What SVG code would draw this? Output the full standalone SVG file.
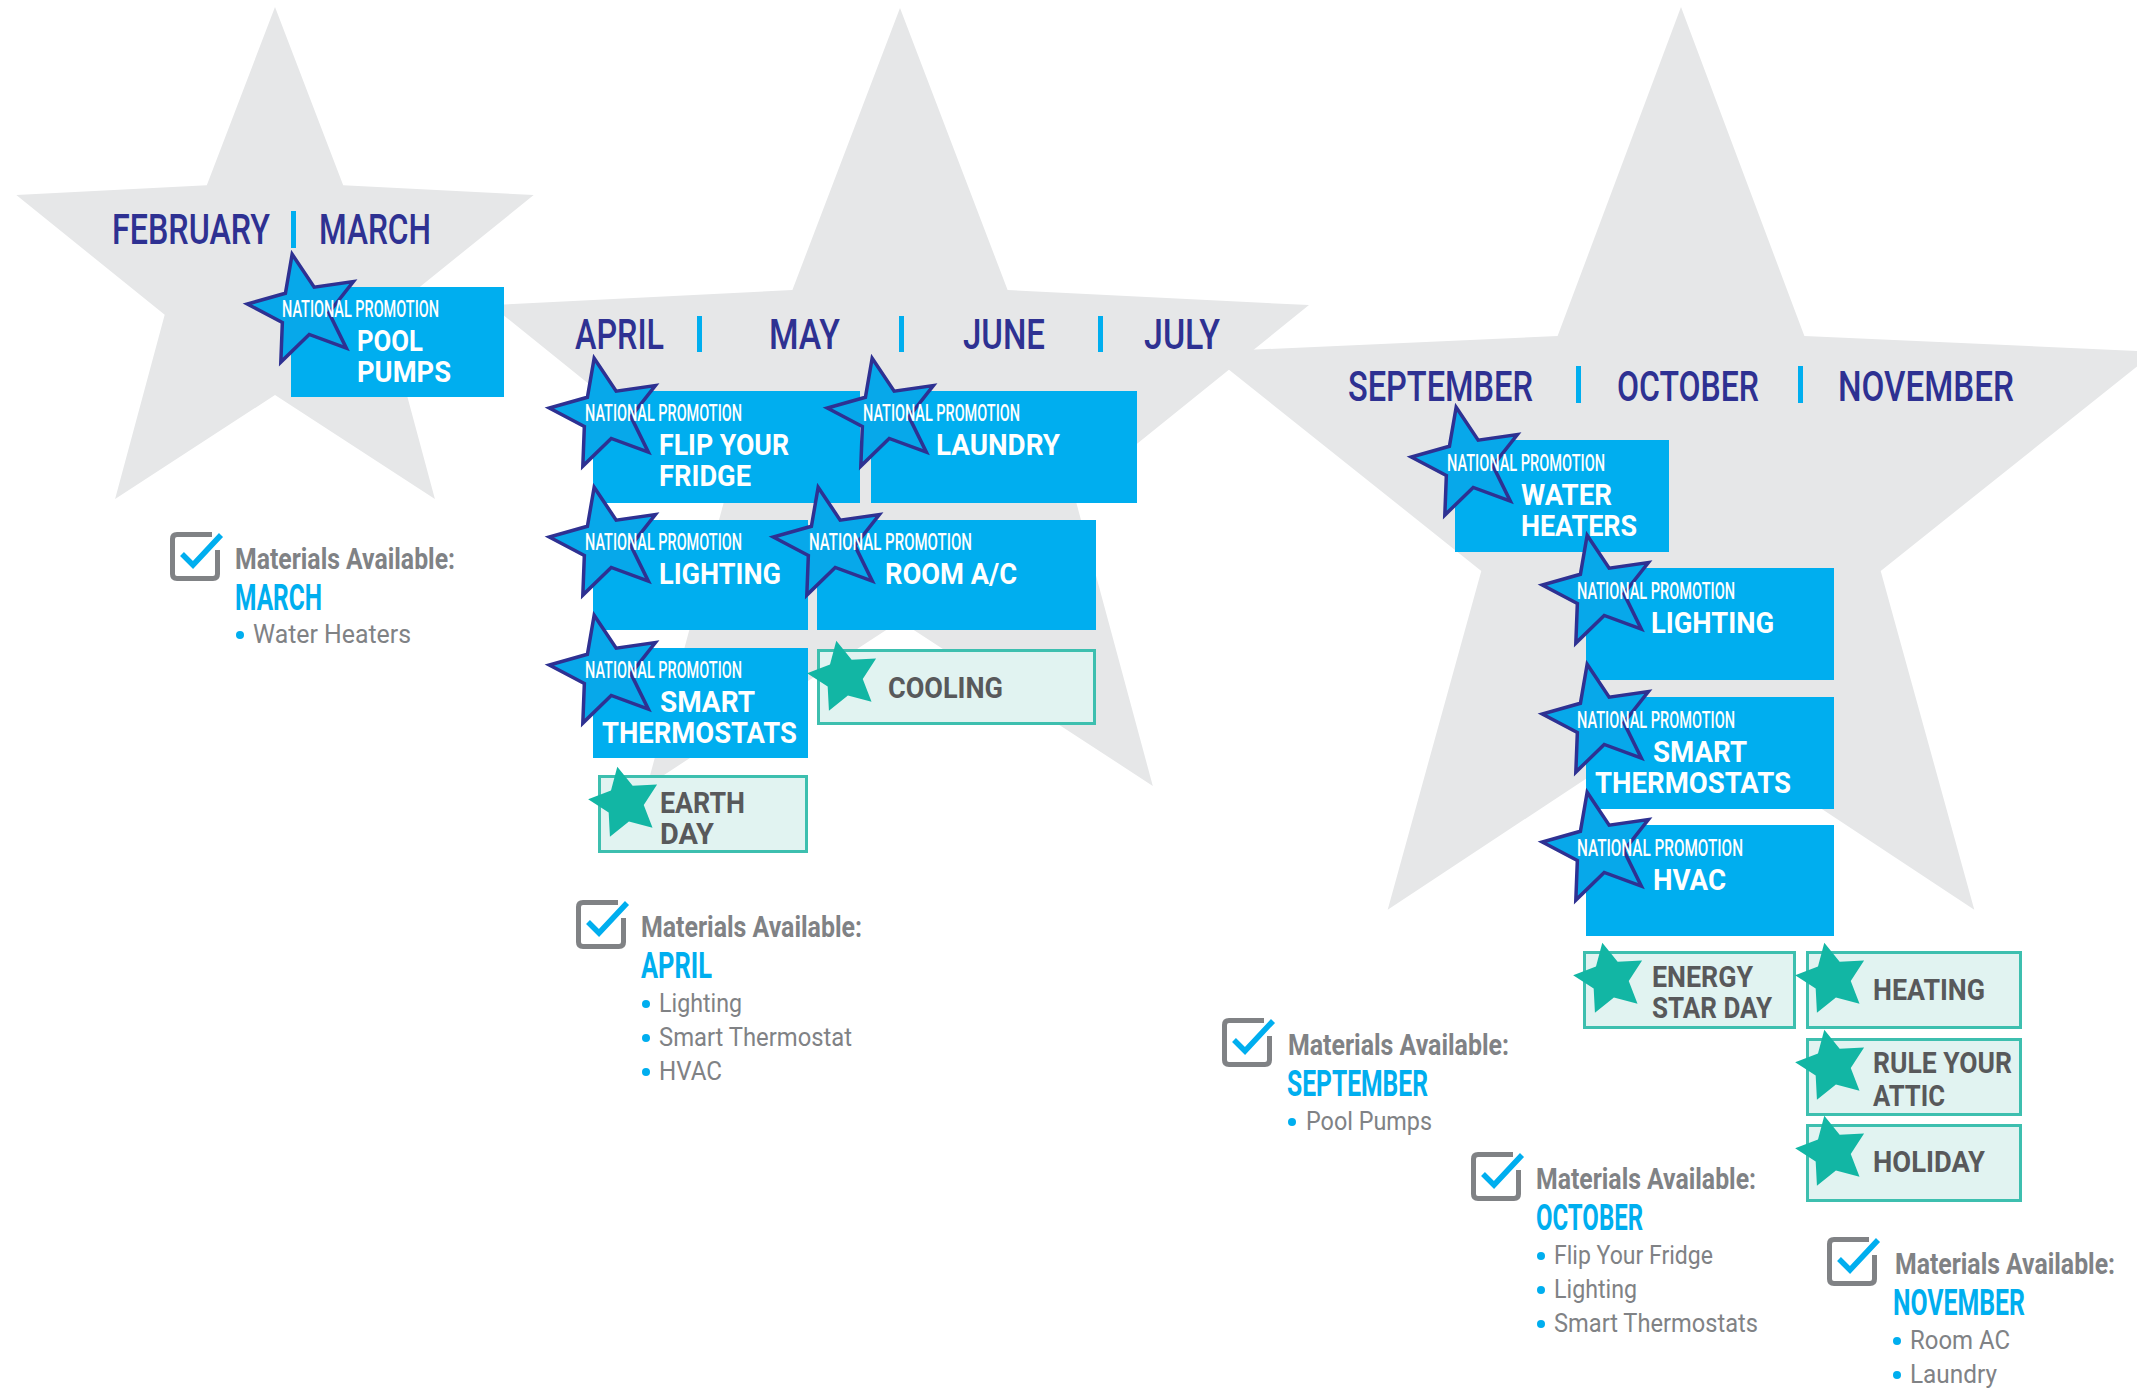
<svg xmlns="http://www.w3.org/2000/svg" xmlns:xlink="http://www.w3.org/1999/xlink" width="2137" height="1389" viewBox="0 0 2137 1389">
<style>
text{font-family:Roboto,'Liberation Sans',Arial,sans-serif}
.bg{fill:#E6E7E8}
.hdr{font-weight:500;font-size:42px;fill:#2E3192}
.bar{fill:#00AEEF}
.box{fill:#00AEEF}
.np{font-weight:500;font-size:23px;fill:#FFFFFF}
.lbl{font-weight:700;font-size:30px;fill:#FFFFFF}
.lbox{fill:#E1F3F1;stroke:#3DBFAF;stroke-width:3}
.llbl{font-weight:700;font-size:30px;fill:#58595B}
.bstar{fill:#07A8EA;stroke:#2E3192;stroke-width:3.5;stroke-linejoin:miter}
.tstar{fill:#12B6A4}
.cb{fill:none;stroke:#808285;stroke-width:5;stroke-linejoin:round}
.ck{fill:none;stroke:#00AEEF;stroke-width:5.5;stroke-linejoin:miter}
.mat{font-weight:700;font-size:30px;fill:#808285}
.mon{font-weight:700;font-size:36px;fill:#00AEEF}
.item{font-weight:400;font-size:25px;fill:#808285}
.dot{fill:#00AEEF}
</style>
<defs>
<path id="bs" class="bstar" d="M-11.85,-55.75 L10.17,-22.84 L49.36,-28.5 L24.86,2.61 L42.36,38.14 L5.2,24.45 L-23.18,52.07 L-21.65,12.5 L-56.69,-5.96 L-18.58,-16.73 Z"/>
<path id="ts" class="tstar" d="M-7.7,-36.24 L7.66,-17.22 L32.08,-18.53 L18.75,1.97 L27.53,24.79 L3.92,18.44 L-15.07,33.85 L-16.32,9.43 L-36.85,-3.87 L-14.01,-12.61 Z"/>
<g id="chk">
<path class="cb" d="M42,2.5 H7 Q2.5,2.5 2.5,7 V42 Q2.5,46.5 7,46.5 H43 Q47.5,46.5 47.5,42 V18"/>
<path class="ck" d="M12,22 L23,33 L51,3"/>
</g>
</defs>

<g id="background-stars">
<polygon class="bg" points="275,7 343.2,185.2 533.7,195 385.3,314.8 434.9,499 275,395 115.1,499 164.7,314.8 16.3,195 206.8,185.2"/>
<polygon class="bg" points="900,8 1007.6,290 1309,305.1 1074.1,494.5 1152.8,785.9 900,621 647.2,785.9 725.9,494.5 491,305.1 792.4,290"/>
<polygon class="bg" points="1681,7 1804.4,336.1 2155.6,351.8 1880.7,570.9 1974.3,909.7 1681,716 1387.7,909.7 1481.3,570.9 1206.4,351.8 1557.6,336.1"/>
</g>

<g id="headers">
<text class="hdr" x="112" y="244" textLength="158" lengthAdjust="spacingAndGlyphs">FEBRUARY</text>
<rect class="bar" x="291" y="211" width="5" height="37"/>
<text class="hdr" x="319" y="244" textLength="112" lengthAdjust="spacingAndGlyphs">MARCH</text>
<text class="hdr" x="575" y="349" textLength="89" lengthAdjust="spacingAndGlyphs">APRIL</text>
<rect class="bar" x="697" y="316" width="5" height="36"/>
<text class="hdr" x="769" y="349" textLength="71" lengthAdjust="spacingAndGlyphs">MAY</text>
<rect class="bar" x="899" y="316" width="5" height="36"/>
<text class="hdr" x="963" y="349" textLength="82" lengthAdjust="spacingAndGlyphs">JUNE</text>
<rect class="bar" x="1098" y="316" width="5" height="36"/>
<text class="hdr" x="1144" y="349" textLength="76" lengthAdjust="spacingAndGlyphs">JULY</text>
<text class="hdr" x="1348" y="401" textLength="185" lengthAdjust="spacingAndGlyphs">SEPTEMBER</text>
<rect class="bar" x="1576" y="366" width="5" height="37"/>
<text class="hdr" x="1617" y="401" textLength="142" lengthAdjust="spacingAndGlyphs">OCTOBER</text>
<rect class="bar" x="1798" y="366" width="5" height="37"/>
<text class="hdr" x="1838" y="401" textLength="176" lengthAdjust="spacingAndGlyphs">NOVEMBER</text>
</g>

<g id="connectors"></g>

<g id="node-pool-pumps">
<rect class="box" x="291" y="287" width="213" height="110"/>
<use xlink:href="#bs" x="304" y="310"/>
<text class="np" x="282" y="317" textLength="157" lengthAdjust="spacingAndGlyphs">NATIONAL PROMOTION</text>
<text class="lbl" x="357" y="351" textLength="66" lengthAdjust="spacingAndGlyphs">POOL</text>
<text class="lbl" x="357" y="382" textLength="94" lengthAdjust="spacingAndGlyphs">PUMPS</text>
</g>

<g id="node-flip-your-fridge">
<rect class="box" x="593" y="391" width="267" height="112"/>
<use xlink:href="#bs" x="606" y="414"/>
<text class="np" x="585" y="421" textLength="157" lengthAdjust="spacingAndGlyphs">NATIONAL PROMOTION</text>
<text class="lbl" x="659" y="455" textLength="130" lengthAdjust="spacingAndGlyphs">FLIP YOUR</text>
<text class="lbl" x="659" y="486" textLength="92" lengthAdjust="spacingAndGlyphs">FRIDGE</text>
</g>

<g id="node-laundry">
<rect class="box" x="871" y="391" width="266" height="112"/>
<use xlink:href="#bs" x="884" y="414"/>
<text class="np" x="863" y="421" textLength="157" lengthAdjust="spacingAndGlyphs">NATIONAL PROMOTION</text>
<text class="lbl" x="936" y="455" textLength="124" lengthAdjust="spacingAndGlyphs">LAUNDRY</text>
</g>

<g id="node-lighting-april">
<rect class="box" x="593" y="520" width="215" height="110"/>
<use xlink:href="#bs" x="606" y="543"/>
<text class="np" x="585" y="550" textLength="157" lengthAdjust="spacingAndGlyphs">NATIONAL PROMOTION</text>
<text class="lbl" x="659" y="584" textLength="122" lengthAdjust="spacingAndGlyphs">LIGHTING</text>
</g>

<g id="node-room-ac">
<rect class="box" x="817" y="520" width="279" height="110"/>
<use xlink:href="#bs" x="830" y="543"/>
<text class="np" x="809" y="550" textLength="163" lengthAdjust="spacingAndGlyphs">NATIONAL PROMOTION</text>
<text class="lbl" x="885" y="584" textLength="132" lengthAdjust="spacingAndGlyphs">ROOM A/C</text>
</g>

<g id="node-smart-thermostats-april">
<rect class="box" x="593" y="648" width="215" height="110"/>
<use xlink:href="#bs" x="606" y="671"/>
<text class="np" x="585" y="678" textLength="157" lengthAdjust="spacingAndGlyphs">NATIONAL PROMOTION</text>
<text class="lbl" x="660" y="712" textLength="95" lengthAdjust="spacingAndGlyphs">SMART</text>
<text class="lbl" x="602" y="743" textLength="195" lengthAdjust="spacingAndGlyphs">THERMOSTATS</text>
</g>

<g id="node-cooling">
<rect class="lbox" x="818.5" y="650.5" width="276" height="73"/>
<use xlink:href="#ts" x="844" y="677"/>
<text class="llbl" x="888" y="698" textLength="115" lengthAdjust="spacingAndGlyphs">COOLING</text>
</g>

<g id="node-earth-day">
<rect class="lbox" x="599.5" y="776.5" width="207" height="75"/>
<use xlink:href="#ts" x="625" y="803"/>
<text class="llbl" x="660" y="813" textLength="85" lengthAdjust="spacingAndGlyphs">EARTH</text>
<text class="llbl" x="660" y="844" textLength="54" lengthAdjust="spacingAndGlyphs">DAY</text>
</g>

<g id="node-water-heaters">
<rect class="box" x="1455" y="440" width="214" height="112"/>
<use xlink:href="#bs" x="1468" y="463"/>
<text class="np" x="1447" y="471" textLength="158" lengthAdjust="spacingAndGlyphs">NATIONAL PROMOTION</text>
<text class="lbl" x="1521" y="505" textLength="91" lengthAdjust="spacingAndGlyphs">WATER</text>
<text class="lbl" x="1521" y="536" textLength="116" lengthAdjust="spacingAndGlyphs">HEATERS</text>
</g>

<g id="node-lighting-october">
<rect class="box" x="1586" y="568" width="248" height="112"/>
<use xlink:href="#bs" x="1599" y="591"/>
<text class="np" x="1577" y="599" textLength="158" lengthAdjust="spacingAndGlyphs">NATIONAL PROMOTION</text>
<text class="lbl" x="1651" y="633" textLength="123" lengthAdjust="spacingAndGlyphs">LIGHTING</text>
</g>

<g id="node-smart-thermostats-october">
<rect class="box" x="1586" y="697" width="248" height="112"/>
<use xlink:href="#bs" x="1599" y="720"/>
<text class="np" x="1577" y="728" textLength="158" lengthAdjust="spacingAndGlyphs">NATIONAL PROMOTION</text>
<text class="lbl" x="1653" y="762" textLength="94" lengthAdjust="spacingAndGlyphs">SMART</text>
<text class="lbl" x="1595" y="793" textLength="196" lengthAdjust="spacingAndGlyphs">THERMOSTATS</text>
</g>

<g id="node-hvac">
<rect class="box" x="1586" y="825" width="248" height="111"/>
<use xlink:href="#bs" x="1599" y="848"/>
<text class="np" x="1577" y="856" textLength="166" lengthAdjust="spacingAndGlyphs">NATIONAL PROMOTION</text>
<text class="lbl" x="1653" y="890" textLength="73" lengthAdjust="spacingAndGlyphs">HVAC</text>
</g>

<g id="node-energy-star-day">
<rect class="lbox" x="1584.5" y="952.5" width="210" height="75"/>
<use xlink:href="#ts" x="1610" y="979"/>
<text class="llbl" x="1652" y="987" textLength="101" lengthAdjust="spacingAndGlyphs">ENERGY</text>
<text class="llbl" x="1652" y="1018" textLength="120" lengthAdjust="spacingAndGlyphs">STAR DAY</text>
</g>

<g id="node-heating">
<rect class="lbox" x="1807.5" y="952.5" width="213" height="75"/>
<use xlink:href="#ts" x="1832" y="979"/>
<text class="llbl" x="1873" y="1000" textLength="112" lengthAdjust="spacingAndGlyphs">HEATING</text>
</g>

<g id="node-rule-your-attic">
<rect class="lbox" x="1807.5" y="1039.5" width="213" height="75"/>
<use xlink:href="#ts" x="1832" y="1066"/>
<text class="llbl" x="1873" y="1073" textLength="139" lengthAdjust="spacingAndGlyphs">RULE YOUR</text>
<text class="llbl" x="1873" y="1106" textLength="72" lengthAdjust="spacingAndGlyphs">ATTIC</text>
</g>

<g id="node-holiday">
<rect class="lbox" x="1807.5" y="1125.5" width="213" height="75"/>
<use xlink:href="#ts" x="1832" y="1152"/>
<text class="llbl" x="1873" y="1172" textLength="112" lengthAdjust="spacingAndGlyphs">HOLIDAY</text>
</g>

<g id="materials-march">
<use xlink:href="#chk" x="170" y="532"/>
<text class="mat" x="235" y="569" textLength="220" lengthAdjust="spacingAndGlyphs">Materials Available:</text>
<text class="mon" x="235" y="610" textLength="87" lengthAdjust="spacingAndGlyphs">MARCH</text>
<circle class="dot" cx="240" cy="635" r="4"/>
<text class="item" x="253" y="643" textLength="158" lengthAdjust="spacingAndGlyphs">Water Heaters</text>
</g>

<g id="materials-april">
<use xlink:href="#chk" x="576" y="900"/>
<text class="mat" x="641" y="937" textLength="221" lengthAdjust="spacingAndGlyphs">Materials Available:</text>
<text class="mon" x="641" y="978" textLength="71" lengthAdjust="spacingAndGlyphs">APRIL</text>
<circle class="dot" cx="646" cy="1004" r="4"/>
<text class="item" x="659" y="1012" textLength="83" lengthAdjust="spacingAndGlyphs">Lighting</text>
<circle class="dot" cx="646" cy="1038" r="4"/>
<text class="item" x="659" y="1046" textLength="193" lengthAdjust="spacingAndGlyphs">Smart Thermostat</text>
<circle class="dot" cx="646" cy="1072" r="4"/>
<text class="item" x="659" y="1080" textLength="63" lengthAdjust="spacingAndGlyphs">HVAC</text>
</g>

<g id="materials-september">
<use xlink:href="#chk" x="1222" y="1018"/>
<text class="mat" x="1288" y="1055" textLength="221" lengthAdjust="spacingAndGlyphs">Materials Available:</text>
<text class="mon" x="1287" y="1096" textLength="141" lengthAdjust="spacingAndGlyphs">SEPTEMBER</text>
<circle class="dot" cx="1292" cy="1122" r="4"/>
<text class="item" x="1306" y="1130" textLength="126" lengthAdjust="spacingAndGlyphs">Pool Pumps</text>
</g>

<g id="materials-october">
<use xlink:href="#chk" x="1471" y="1152"/>
<text class="mat" x="1536" y="1189" textLength="220" lengthAdjust="spacingAndGlyphs">Materials Available:</text>
<text class="mon" x="1536" y="1230" textLength="107" lengthAdjust="spacingAndGlyphs">OCTOBER</text>
<circle class="dot" cx="1541" cy="1256" r="4"/>
<text class="item" x="1554" y="1264" textLength="159" lengthAdjust="spacingAndGlyphs">Flip Your Fridge</text>
<circle class="dot" cx="1541" cy="1290" r="4"/>
<text class="item" x="1554" y="1298" textLength="83" lengthAdjust="spacingAndGlyphs">Lighting</text>
<circle class="dot" cx="1541" cy="1324" r="4"/>
<text class="item" x="1554" y="1332" textLength="204" lengthAdjust="spacingAndGlyphs">Smart Thermostats</text>
</g>

<g id="materials-november">
<use xlink:href="#chk" x="1827" y="1237"/>
<text class="mat" x="1895" y="1274" textLength="220" lengthAdjust="spacingAndGlyphs">Materials Available:</text>
<text class="mon" x="1893" y="1315" textLength="132" lengthAdjust="spacingAndGlyphs">NOVEMBER</text>
<circle class="dot" cx="1897" cy="1341" r="4"/>
<text class="item" x="1910" y="1349" textLength="100" lengthAdjust="spacingAndGlyphs">Room AC</text>
<circle class="dot" cx="1897" cy="1375" r="4"/>
<text class="item" x="1910" y="1383" textLength="87" lengthAdjust="spacingAndGlyphs">Laundry</text>
</g>
</svg>
